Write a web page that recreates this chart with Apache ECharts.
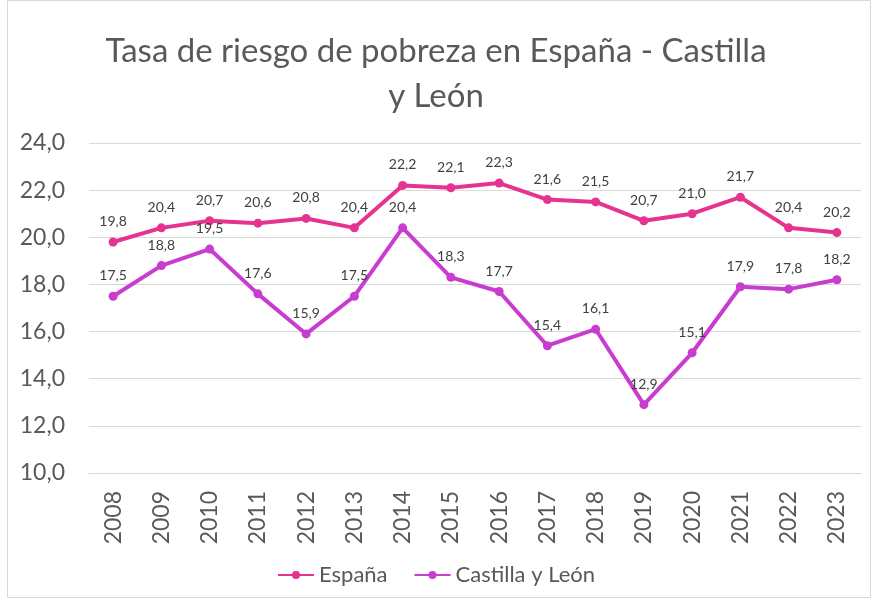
<!DOCTYPE html>
<html><head><meta charset="utf-8">
<script src="https://cdn.jsdelivr.net/npm/echarts@6/dist/echarts.min.js"></script>
<style>html,body{margin:0;padding:0;background:#fff}#c{width:872px;height:599px}</style>
</head><body><div id="c"></div>
<script>
const years = ['2008','2009','2010','2011','2012','2013','2014','2015','2016','2017','2018','2019','2020','2021','2022','2023'];
const espana = [19.8,20.4,20.7,20.6,20.8,20.4,22.2,22.1,22.3,21.6,21.5,20.7,21.0,21.7,20.4,20.2];
const castilla = [17.5,18.8,19.5,17.6,15.9,17.5,20.4,18.3,17.7,15.4,16.1,12.9,15.1,17.9,17.8,18.2];
const fmt = v => v.toFixed(1).replace('.', ',');
const chart = echarts.init(document.getElementById('c'));
const F = 'Lato, "Open Sans", sans-serif';
function ser(name, data, color){
  return {name, type:'line', data, color,
    symbol:'circle', symbolSize:9,
    lineStyle:{width:4, color}, itemStyle:{color},
    label:{show:true, position:'top', distance:9, color:'#404040', fontSize:14, fontFamily:F, formatter:p=>fmt(p.value)}};
}
chart.setOption({
  animation:false,
  graphic:[{type:'rect', shape:{x:7.5,y:0.5,width:863,height:597}, style:{fill:'none', stroke:'#d9d9d9', lineWidth:1}}],
  title:{text:'Tasa de riesgo de pobreza en España - Castilla\ny León', left:'center', top:24,
    textStyle:{fontSize:33, fontWeight:'normal', color:'#595959', fontFamily:F, lineHeight:45}},
  legend:{bottom:8, left:'center', itemWidth:36, itemHeight:10, itemGap:26,
    textStyle:{fontSize:22, color:'#595959', fontFamily:F}},
  grid:{left:89, width:772, top:143, height:330},
  xAxis:{type:'category', data:years, boundaryGap:true,
    axisLine:{lineStyle:{color:'#d9d9d9'}}, axisTick:{show:false},
    axisLabel:{rotate:90, fontSize:23, color:'#595959', fontFamily:F, margin:18}},
  yAxis:{type:'value', min:10, max:24, interval:2,
    axisLabel:{formatter:v=>fmt(v), fontSize:23, color:'#595959', fontFamily:F, margin:24},
    axisLine:{show:false}, axisTick:{show:false},
    splitLine:{lineStyle:{color:'#d9d9d9', width:1}}},
  series:[ser('España', espana, '#E6338F'), ser('Castilla y León', castilla, '#C83CCF')]
});
</script></body></html>
